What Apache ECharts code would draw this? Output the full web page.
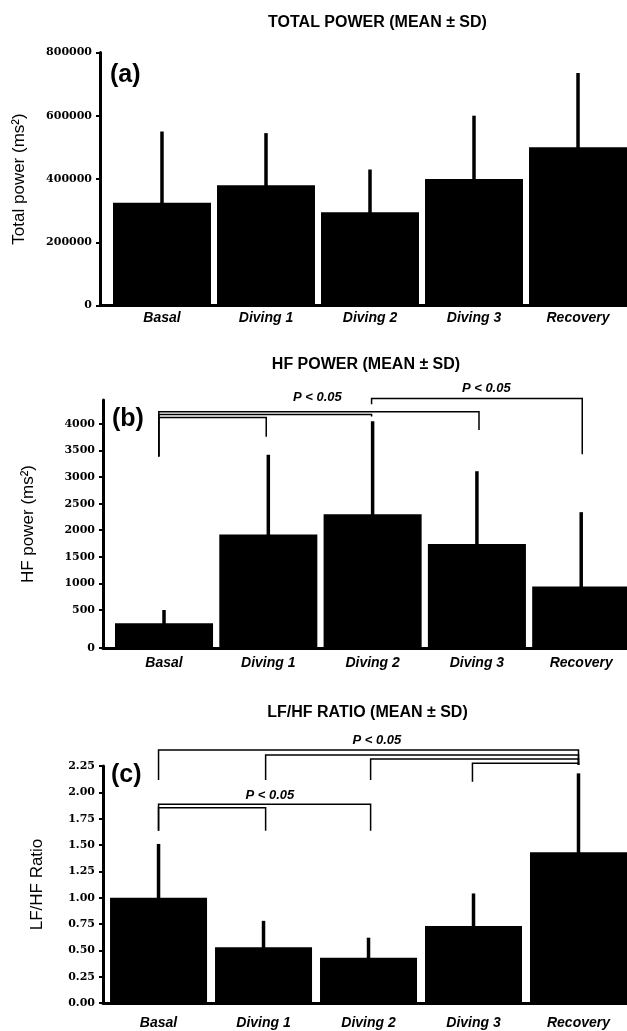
<!DOCTYPE html>
<html>
<head>
<meta charset="utf-8">
<script src="https://cdn.jsdelivr.net/npm/echarts@6/dist/echarts.min.js"></script>
<style>
html,body{margin:0;padding:0;background:#fff;}
#chart{width:627px;height:1031px;}
</style>
</head>
<body>
<div id="chart"></div>
<script>
// ---------------- data ----------------
const categories = ['Basal', 'Diving 1', 'Diving 2', 'Diving 3', 'Recovery'];

const totalMean = [325000, 380000, 295000, 400000, 500000];
const totalSD   = [225000, 165000, 135000, 200000, 235000];
const totalTicks = [0, 200000, 400000, 600000, 800000];

const hfMean = [250, 1920, 2300, 1740, 940];
const hfSD   = [250, 1500, 1750, 1370, 1400];
const hfTicks = [0, 500, 1000, 1500, 2000, 2500, 3000, 3500, 4000];

const ratioMean = [1.00, 0.53, 0.43, 0.73, 1.43];
const ratioSD   = [0.51, 0.25, 0.19, 0.31, 0.75];
const ratioTicks = [0, 0.25, 0.5, 0.75, 1.0, 1.25, 1.5, 1.75, 2.0, 2.25];

// significance brackets: [fromX, toX, lineY, leftLegEndY, rightLegEndY] in data units
const hfBrackets = [
  [-0.05, 3.02, 4231, 3385, 3887],
  [-0.05, 1.99, 4179, 3385, 4141],
  [-0.05, 0.98, 4119, 3385, 3761],
  [1.99, 4.01, 4480, 4371, 3430]
];
const hfSigLabels = [[1.47, 4495, 'P < 0.05'], [3.09, 4671, 'P < 0.05']];

const ratioBrackets = [
  [0, 4, 2.402, 2.117, 2.26],
  [1.02, 4, 2.354, 2.117, 2.26],
  [2.02, 4, 2.317, 2.117, 2.26],
  [2.99, 4, 2.276, 2.101, 2.26],
  [0, 2.02, 1.886, 1.636, 1.636],
  [0, 1.02, 1.854, 1.636, 1.636]
];
const ratioSigLabels = [[2.08, 2.49, 'P < 0.05'], [1.06, 1.968, 'P < 0.05']];

// ---------------- layout/style ----------------
const panels = [
  {title: 'TOTAL POWER (MEAN \u00b1 SD)', titleX: 377.5, titleY: 23, letter: '(a)', letterX: 110, letterY: 75,
   left: 100, top: 52.4, height: 253.2, xMin: -0.596, xMax: 4.471, yMin: 0, yMax: 800000,
   barFrac: 0.942, name: 'Total power (ms\u00b2)', nameGap: 72, catMargin: 6,
   mean: totalMean, sd: totalSD, ticks: totalTicks, tickPos: totalTicks, fmt: v => String(v)},
  {title: 'HF POWER (MEAN \u00b1 SD)', titleX: 366, titleY: 365, letter: '(b)', letterX: 112, letterY: 419,
   left: 103, top: 400, height: 248, xMin: -0.585, xMax: 4.439, yMin: -215, yMax: 4450,
   barFrac: 0.94, name: 'HF power (ms\u00b2)', nameGap: 66, catMargin: 8,
   mean: hfMean, sd: hfSD, ticks: hfTicks, tickPos: hfTicks.map(v => v === 0 ? -215 : v), fmt: v => String(v)},
  {title: 'LF/HF RATIO (MEAN \u00b1 SD)', titleX: 367.5, titleY: 713, letter: '(c)', letterX: 111, letterY: 775,
   left: 103, top: 766, height: 237, xMin: -0.529, xMax: 4.462, yMin: 0, yMax: 2.25,
   barFrac: 0.924, name: 'LF/HF Ratio', nameGap: 57, catMargin: 13,
   mean: ratioMean, sd: ratioSD, ticks: ratioTicks, tickPos: ratioTicks, fmt: v => v.toFixed(2)}
];

const grids = [], xAxes = [], yAxes = [], series = [], titles = [];

panels.forEach((p, k) => {
  grids.push({left: p.left, top: p.top, width: 627 - p.left, height: p.height,
              containLabel: false, outerBoundsMode: 'none'});
  xAxes.push({
    type: 'value', gridIndex: k, min: p.xMin, max: p.xMax,
    splitLine: {show: false}, axisTick: {show: false},
    axisLine: {show: true, onZero: false, lineStyle: {color: '#000', width: 3}},
    axisLabel: {
      customValues: [0, 1, 2, 3, 4], margin: p.catMargin,
      formatter: v => categories[Math.round(v)] || '',
      color: '#000', fontFamily: 'Liberation Sans', fontWeight: 'bold', fontStyle: 'italic', fontSize: 14
    }
  });
  const labelMap = {};
  p.tickPos.forEach((pos, i) => { labelMap[pos] = p.fmt(p.ticks[i]); });
  yAxes.push({
    type: 'value', gridIndex: k, min: p.yMin, max: p.yMax, position: 'left',
    splitLine: {show: false},
    axisLine: {show: true, onZero: false, lineStyle: {color: '#000', width: 3}},
    axisTick: {show: true, customValues: p.tickPos, length: 4, lineStyle: {color: '#000', width: 2}},
    axisLabel: {
      customValues: p.tickPos, margin: 8,
      formatter: v => labelMap[v] !== undefined ? labelMap[v] : '',
      color: '#000', fontFamily: 'DejaVu Serif', fontWeight: 'bold', fontSize: 11
    },
    name: p.name, nameLocation: 'middle', nameRotate: 90, nameGap: p.nameGap,
    nameTextStyle: {color: '#000', fontFamily: 'Liberation Sans', fontSize: 17}
  });
  titles.push({text: p.title, left: p.titleX, top: p.titleY - 8, textAlign: 'center', padding: 0,
    textStyle: {fontFamily: 'Liberation Sans', fontWeight: 'bold', fontSize: 16, lineHeight: 16, color: '#000'}});
  titles.push({text: p.letter, left: p.letterX, top: p.letterY - 13, padding: 0,
    textStyle: {fontFamily: 'Liberation Sans', fontWeight: 'bold', fontSize: 25, lineHeight: 26, color: '#000'}});

  // bars + SD lines
  series.push({
    type: 'custom', xAxisIndex: k, yAxisIndex: k, clip: false,
    data: p.mean.map((m, i) => [i, m, m + p.sd[i]]),
    renderItem: (params, api) => {
      const x = api.value(0), m = api.value(1), t = api.value(2);
      const b = api.coord([x, p.yMin]);
      const c = api.coord([x, m]);
      const e = api.coord([x, t]);
      const w = api.size([1, 0])[0] * p.barFrac;
      return {type: 'group', children: [
        {type: 'rect', shape: {x: c[0] - w / 2, y: c[1], width: w, height: b[1] - c[1]}, style: {fill: '#000'}},
        {type: 'line', shape: {x1: c[0], y1: c[1] + 1, x2: e[0], y2: e[1]}, style: {stroke: '#000', lineWidth: 3.5}}
      ]};
    }
  });
});

function bracketSeries(k, list) {
  return {
    type: 'custom', xAxisIndex: k, yAxisIndex: k, clip: false, silent: true,
    data: list.map((d, i) => [d[0], d[2], i]),
    renderItem: (params, api) => {
      const d = list[params.dataIndex];
      const pts = [api.coord([d[0], d[3]]), api.coord([d[0], d[2]]), api.coord([d[1], d[2]]), api.coord([d[1], d[4]])];
      return {type: 'polyline', shape: {points: pts}, style: {stroke: '#000', lineWidth: 1.5, fill: null}};
    }
  };
}
function sigSeries(k, list) {
  return {
    type: 'custom', xAxisIndex: k, yAxisIndex: k, clip: false, silent: true,
    data: list.map((d, i) => [d[0], d[1]]),
    renderItem: (params, api) => {
      const d = list[params.dataIndex];
      const c = api.coord([d[0], d[1]]);
      return {type: 'text', x: c[0], y: c[1], style: {
        text: d[2], fill: '#000', font: 'italic bold 13px "Liberation Sans"',
        align: 'center', verticalAlign: 'middle', textAlign: 'center', textVerticalAlign: 'middle'}};
    }
  };
}
series.push(bracketSeries(1, hfBrackets), sigSeries(1, hfSigLabels));
series.push(bracketSeries(2, ratioBrackets), sigSeries(2, ratioSigLabels));

const chart = echarts.init(document.getElementById('chart'), null, {renderer: 'canvas'});
chart.setOption({
  animation: false,
  backgroundColor: '#fff',
  title: titles,
  grid: grids,
  xAxis: xAxes,
  yAxis: yAxes,
  series: series
});
</script>
</body>
</html>
